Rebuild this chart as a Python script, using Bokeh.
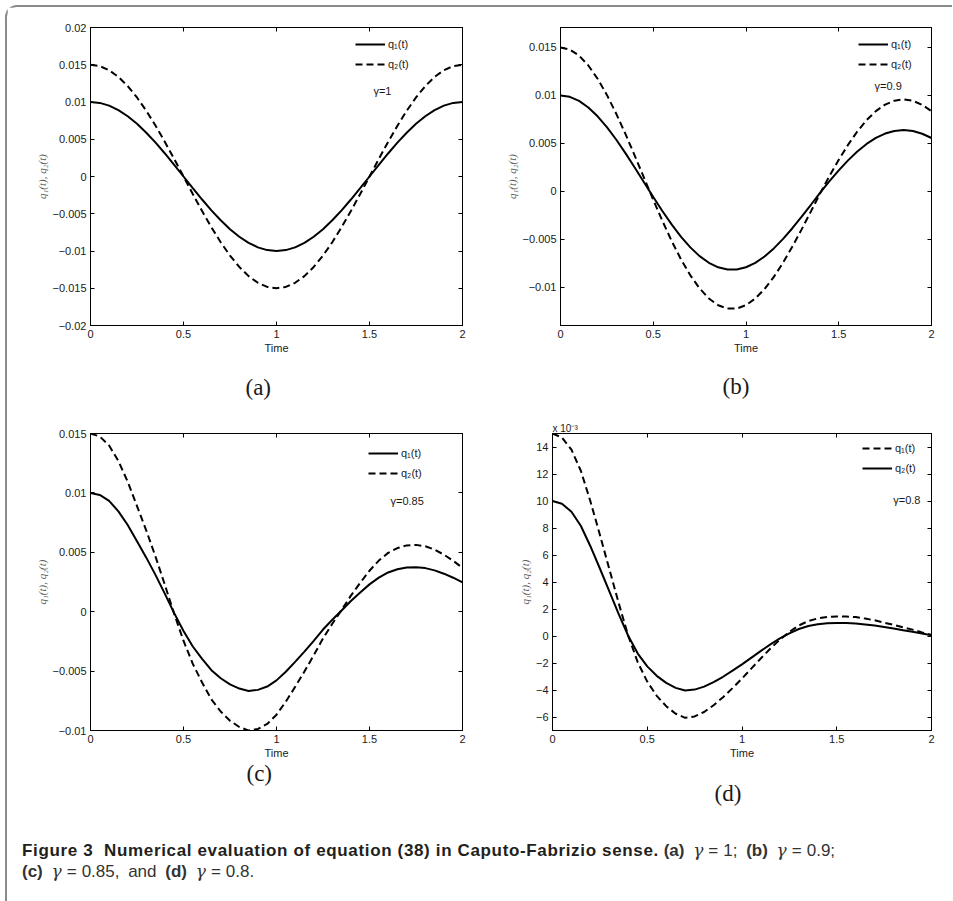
from bokeh.plotting import figure
from bokeh.layouts import column, row
from bokeh.models import (Range1d, FixedTicker, LinearAxis, Legend, LegendItem, Label, Title, Div,
                          CustomLabelingPolicy)
from bokeh.embed import file_html
from bokeh.resources import INLINE

# ---------------- data ----------------
T = [0, 0.05, 0.1, 0.15, 0.2, 0.25, 0.3, 0.35, 0.4, 0.45, 0.5, 0.55, 0.6, 0.65, 0.7,
     0.75, 0.8, 0.85, 0.9, 0.95, 1.0, 1.05, 1.1, 1.15, 1.2, 1.25, 1.3, 1.35, 1.4, 1.45,
     1.5, 1.55, 1.6, 1.65, 1.7, 1.75, 1.8, 1.85, 1.9, 1.95, 2.0]

# (a) gamma = 1
A_Q1 = [0.01, 0.00988, 0.00951, 0.00891, 0.00809, 0.00707, 0.00588, 0.00454, 0.00309, 0.00156,
        0.0, -0.00156, -0.00309, -0.00454, -0.00588, -0.00707, -0.00809, -0.00891, -0.00951, -0.00988,
        -0.01, -0.00988, -0.00951, -0.00891, -0.00809, -0.00707, -0.00588, -0.00454, -0.00309, -0.00156,
        0.0, 0.00156, 0.00309, 0.00454, 0.00588, 0.00707, 0.00809, 0.00891, 0.00951, 0.00988, 0.01]
A_Q2 = [0.015, 0.01482, 0.01427, 0.01337, 0.01214, 0.01061, 0.00882, 0.00681, 0.00464, 0.00235,
        0.0, -0.00235, -0.00464, -0.00681, -0.00882, -0.01061, -0.01214, -0.01337, -0.01427, -0.01482,
        -0.015, -0.01482, -0.01427, -0.01337, -0.01214, -0.01061, -0.00882, -0.00681, -0.00464, -0.00235,
        0.0, 0.00235, 0.00464, 0.00681, 0.00882, 0.01061, 0.01214, 0.01337, 0.01427, 0.01482, 0.015]

# (b) gamma = 0.9
B_Q1 = [0.01, 0.009856, 0.009434, 0.00875, 0.00783, 0.006707, 0.005416, 0.003997, 0.002496, 0.000955,
        -0.000579, -0.002064, -0.003457, -0.004721, -0.005822, -0.006732, -0.00743, -0.0079, -0.008133, -0.008129,
        -0.007891, -0.007434, -0.006773, -0.005932, -0.00494, -0.003828, -0.002631, -0.001384, -0.000125, 0.001077,
        0.002195, 0.003237, 0.004164, 0.004952, 0.00558, 0.006035, 0.006307, 0.006393, 0.006294, 0.006016, 0.005573]
B_Q2 = [0.015, 0.014784, 0.014151, 0.013125, 0.011745, 0.01006, 0.008124, 0.005996, 0.003744, 0.001433,
        -0.000869, -0.003096, -0.005186, -0.007082, -0.008733, -0.010098, -0.011145, -0.01185, -0.0122, -0.012194,
        -0.011837, -0.011151, -0.01016, -0.008898, -0.00741, -0.005742, -0.003947, -0.002076, -0.000188, 0.001616,
        0.003293, 0.004856, 0.006246, 0.007428, 0.00837, 0.009053, 0.009461, 0.00959, 0.009441, 0.009024, 0.00836]

# (c) gamma = 0.85
C_Q1 = [0.01, 0.00983, 0.00933, 0.00845, 0.0073, 0.00593, 0.00455, 0.00308, 0.0015, -0.00012,
        -0.00163, -0.00293, -0.00397, -0.00492, -0.0056, -0.00612, -0.00647, -0.00667, -0.00658, -0.0063,
        -0.00578, -0.00505, -0.00422, -0.00336, -0.00245, -0.0015, -0.00068, 0.0001, 0.0009, 0.00162,
        0.0023, 0.00287, 0.0033, 0.00357, 0.00372, 0.00375, 0.00367, 0.00348, 0.0032, 0.00286, 0.00246]
C_Q2 = [0.015, 0.014745, 0.013995, 0.012675, 0.01095, 0.008895, 0.006825, 0.00462, 0.00225, -0.00018,
        -0.002445, -0.004395, -0.005955, -0.00738, -0.0084, -0.00918, -0.009705, -0.010005, -0.00987, -0.00945,
        -0.00867, -0.007575, -0.00633, -0.00504, -0.003675, -0.00225, -0.00102, 0.00015, 0.00135, 0.00243,
        0.00345, 0.004305, 0.00495, 0.005355, 0.00558, 0.005625, 0.005505, 0.00522, 0.0048, 0.00429, 0.00369]

# (d) gamma = 0.8, values in units of 1e-3 (axis multiplier "x 10^-3")
D_Q1 = [15.0, 14.7, 13.8, 12.22, 9.98, 7.5, 4.95, 2.4, 0.0, -1.95,
        -3.38, -4.43, -5.2, -5.76, -6.06, -5.96, -5.63, -5.13, -4.53, -3.86,
        -3.15, -2.4, -1.65, -0.93, -0.27, 0.3, 0.78, 1.11, 1.3, 1.41,
        1.44, 1.44, 1.4, 1.29, 1.16, 0.99, 0.83, 0.65, 0.47, 0.27, 0.08]
D_Q2 = [10.0, 9.8, 9.2, 8.15, 6.65, 5.0, 3.3, 1.6, 0.0, -1.3,
        -2.25, -2.95, -3.47, -3.84, -4.04, -3.97, -3.75, -3.42, -3.02, -2.57,
        -2.1, -1.6, -1.1, -0.62, -0.18, 0.2, 0.52, 0.74, 0.87, 0.94,
        0.96, 0.96, 0.93, 0.86, 0.77, 0.66, 0.55, 0.43, 0.31, 0.18, 0.05]

X_TICKS = [0, 0.5, 1, 1.5, 2]
X_LABELS = ["0", "0.5", "1", "1.5", "2"]
A_YTICKS = [-0.02, -0.015, -0.01, -0.005, 0, 0.005, 0.01, 0.015, 0.02]
A_YLABELS = ["\u22120.02", "\u22120.015", "\u22120.01", "\u22120.005", "0", "0.005", "0.01", "0.015", "0.02"]
BC_YTICKS = [-0.01, -0.005, 0, 0.005, 0.01, 0.015]
BC_YLABELS = ["\u22120.01", "\u22120.005", "0", "0.005", "0.01", "0.015"]
D_YTICKS = [-6, -4, -2, 0, 2, 4, 6, 8, 10, 12, 14]
D_YLABELS = ["\u22126", "\u22124", "\u22122", "0", "2", "4", "6", "8", "10", "12", "14"]

SANS = "Liberation Sans"
SERIF = "Liberation Serif"
DASH = "7 4"
FS = "11px"

NO_LABELS = CustomLabelingPolicy(code="""
    for (const i of Array.from(indices)) { indices.unset(i) }
    return indices
""")


def make_panel(width, height, borders, yr, yticks, ylabels, series, legend_xy,
               gamma_text, gamma_xy, tag, tag_offset, tag_standoff):
    lb, rb, tb, bb = borders
    p = figure(width=width, height=height, x_range=Range1d(0, 2), y_range=Range1d(*yr),
               output_backend="svg", toolbar_location=None,
               min_border_left=lb, min_border_right=rb, min_border_top=tb, min_border_bottom=bb)
    p.xgrid.visible = False
    p.ygrid.visible = False
    p.outline_line_color = "black"
    p.outline_line_alpha = 1
    p.outline_line_width = 1
    p.background_fill_color = "white"
    p.border_fill_color = "white"

    xa = p.xaxis[0]
    xa.ticker = FixedTicker(ticks=X_TICKS)
    xa.major_label_overrides = dict(zip(X_TICKS, X_LABELS))
    ya = p.yaxis[0]
    ya.ticker = FixedTicker(ticks=yticks)
    ya.major_label_overrides = dict(zip(yticks, ylabels))
    for ax in (xa, ya):
        ax.major_tick_in = 4
        ax.major_tick_out = 0
        ax.minor_tick_line_color = None
        ax.axis_line_color = "black"
        ax.major_tick_line_color = "black"
        ax.major_label_text_font = SANS
        ax.major_label_text_font_size = FS
        ax.major_label_text_color = "#1a1a1a"
    xa.major_label_standoff = 4
    ya.major_label_standoff = 4
    xa.axis_label = "Time"
    xa.axis_label_text_font = SANS
    xa.axis_label_text_font_size = FS
    xa.axis_label_text_font_style = "normal"
    xa.axis_label_text_color = "#1a1a1a"
    xa.axis_label_standoff = 1
    ya.axis_label = "q\u2081(t), q\u2082(t)"
    ya.axis_label_text_font = SERIF
    ya.axis_label_text_font_size = FS
    ya.axis_label_text_font_style = "italic"
    ya.axis_label_text_color = "#5a5a5a"
    ya.axis_label_standoff = 2

    # mirrored inner ticks on top and right (box style), no labels
    for side, ticks in (("above", X_TICKS), ("right", yticks)):
        mirror = LinearAxis(ticker=FixedTicker(ticks=ticks), major_label_policy=NO_LABELS,
                            major_label_text_font_size="0px", major_tick_in=4, major_tick_out=0,
                            minor_tick_line_color=None, major_label_standoff=0,
                            axis_line_color="black")
        p.add_layout(mirror, side)

    items = []
    for (ys, dash, lab) in series:
        r = p.line(T, ys, line_color="black", line_width=2, line_dash=dash)
        items.append(LegendItem(label=lab, renderers=[r]))
    leg = Legend(items=items, location=legend_xy, border_line_color=None,
                 background_fill_alpha=0, padding=0, margin=0, spacing=6,
                 glyph_width=30, glyph_height=14, label_height=14, label_standoff=3,
                 label_text_font=SANS, label_text_font_size=FS, label_text_color="#1a1a1a")
    p.add_layout(leg)

    p.add_layout(Label(x=gamma_xy[0], y=gamma_xy[1], text=gamma_text, text_font=SANS,
                       text_font_size=FS, text_baseline="middle", text_align="left",
                       text_color="#1a1a1a"))

    p.add_layout(Title(text=tag, align="left", offset=tag_offset, standoff=tag_standoff,
                       text_font=SERIF, text_font_size="23px", text_font_style="normal",
                       text_color="#1a1a1a"), "below")
    return p


pa = make_panel(473, 413, (83, 18, 20, 95), (-0.02, 0.02), A_YTICKS, A_YLABELS,
                [(A_Q1, "solid", "q\u2081(t)"), (A_Q2, DASH, "q\u2082(t)")],
                (265, 254), "\u03b3=1", (1.521, 0.01154), "(a)", 155, 33)
pb = make_panel(472, 413, (80, 21, 20, 95), (-0.01396, 0.01708), BC_YTICKS, BC_YLABELS,
                [(B_Q1, "solid", "q\u2081(t)"), (B_Q2, DASH, "q\u2082(t)")],
                (298, 254), "\u03b3=0.9", (1.693, 0.01094), "(b)", 162, 30)
pc = make_panel(473, 418, (83, 18, 13, 108), (-0.01, 0.015), BC_YTICKS, BC_YLABELS,
                [(C_Q1, "solid", "q\u2081(t)"), (C_Q2, DASH, "q\u2082(t)")],
                (278, 250), "\u03b3=0.85", (1.613, 0.00936), "(c)", 156, -5)
pd = make_panel(472, 418, (72, 21, 13, 108), (-7, 15), D_YTICKS, D_YLABELS,
                [(D_Q1, DASH, "q\u2081(t)"), (D_Q2, "solid", "q\u2082(t)")],
                (310, 255), "\u03b3=0.8", (1.798, 10.04), "(d)", 162, 35)
pd.add_layout(Title(text="x 10\u207b\u00b3", align="left", offset=0, standoff=0,
                    text_font=SANS, text_font_size="10px", text_font_style="normal",
                    text_color="#1a1a1a"), "above")

G = "<span style=\"font-family:'DejaVu Serif';font-style:italic\">\u03b3</span>"
EQ = "<span style=\"margin:0 5px\">=</span>"
caption_html = (
    "<div style=\"font-family:'Liberation Sans';font-size:17px;line-height:21px;"
    "padding-left:10px;margin-top:-3px;color:#231f20;white-space:nowrap\">"
    "<b style=\"letter-spacing:0.65px\">Figure 3&nbsp; Numerical evaluation of equation (38) "
    "in Caputo-Fabrizio sense.</b> "
    "<span style=\"color:#333;word-spacing:4px\">"
    "<b>(a)</b> " + G + EQ + "1; <b>(b)</b> " + G + EQ + "0.9;<br>"
    "<b>(c)</b> " + G + EQ + "0.85, and <b>(d)</b> " + G + EQ + "0.8."
    "</span></div>"
)
caption = Div(text=caption_html, width=935, height=60)

layout = column(row(pa, pb), row(pc, pd), caption,
                styles={"margin-left": "5px", "margin-top": "5px",
                        "border-left": "2px solid #8a8a8a", "border-top": "2px solid #8a8a8a",
                        "border-top-left-radius": "12px"})

open("out.html", "w").write(file_html(layout, INLINE))
